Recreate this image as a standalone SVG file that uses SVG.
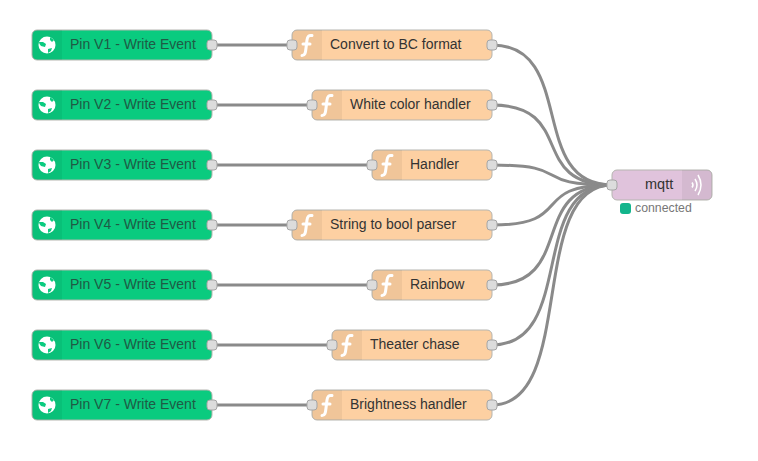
<svg xmlns="http://www.w3.org/2000/svg" width="758" height="461" viewBox="0 0 758 461">
<style>
text{font-family:"Liberation Sans",Arial,sans-serif;font-size:14px;fill:#333}
.body{stroke:#b5b5b0;stroke-width:1}
.inject{fill:#0acb7f}
.func{fill:#fdd0a2}
.mq{fill:#e0c3dc}
.shade{fill:#000;fill-opacity:.05}
.port{fill:#dcdcdc;stroke:#a5a5a5;stroke-width:1}
.wire{fill:none;stroke:#8a8a8a;stroke-width:3}
.lbl{fill:#1f5a45}
.ico{fill:none;stroke:#fff;stroke-width:3;stroke-linecap:round}
.st{font-size:12.3px;fill:#777}
</style>
<defs>
<g id="globe"><circle cx="15" cy="0" r="8.500" fill="#fff"/><path d="M7 -3 L11 -3 L14 -1 L13 2 L9 1 L7.500 -1Z M16 4 L20 3 L19 6 L16 8Z M18 -8 L22 -5 L20 -3 L18 -5Z" fill="#0acb7f"/></g>
<g id="fn"><path class="ico" d="M10 10.500 C13 10.500 13.500 8 14 3 L15 -5 C15.500 -9 17 -10 20 -9.500 M11 -1 H18"/></g>
</defs>
<rect width="758" height="461" fill="#fff"/>
<g id="connectors">
<path class="wire" d="M212 45H292"/>
<path class="wire" d="M212 105H312"/>
<path class="wire" d="M212 165H372"/>
<path class="wire" d="M212 225H292"/>
<path class="wire" d="M212 285H372"/>
<path class="wire" d="M212 345H332"/>
<path class="wire" d="M212 405H312"/>
<path class="wire" d="M492 45C577 45 527 185 612 185"/>
<path class="wire" d="M492 105C577 105 527 185 612 185"/>
<path class="wire" d="M492 165C577 165 527 185 612 185"/>
<path class="wire" d="M492 225C577 225 527 185 612 185"/>
<path class="wire" d="M492 285C577 285 527 185 612 185"/>
<path class="wire" d="M492 345C577 345 527 185 612 185"/>
<path class="wire" d="M492 405C577 405 527 185 612 185"/>
</g>
<g id="in1" transform="translate(32,45)"><rect class="body inject" y="-15" width="180" height="30" rx="5"/><path class="shade" d="M5 -15H30V15H5A5 5 0 0 1 0 10V-10A5 5 0 0 1 5 -15Z"/><use href="#globe"/><text class="lbl" x="38" y="4">Pin V1 - Write Event</text><rect class="port" x="175" y="-5" width="10" height="10" rx="3"/></g>
<g id="in2" transform="translate(32,105)"><rect class="body inject" y="-15" width="180" height="30" rx="5"/><path class="shade" d="M5 -15H30V15H5A5 5 0 0 1 0 10V-10A5 5 0 0 1 5 -15Z"/><use href="#globe"/><text class="lbl" x="38" y="4">Pin V2 - Write Event</text><rect class="port" x="175" y="-5" width="10" height="10" rx="3"/></g>
<g id="in3" transform="translate(32,165)"><rect class="body inject" y="-15" width="180" height="30" rx="5"/><path class="shade" d="M5 -15H30V15H5A5 5 0 0 1 0 10V-10A5 5 0 0 1 5 -15Z"/><use href="#globe"/><text class="lbl" x="38" y="4">Pin V3 - Write Event</text><rect class="port" x="175" y="-5" width="10" height="10" rx="3"/></g>
<g id="in4" transform="translate(32,225)"><rect class="body inject" y="-15" width="180" height="30" rx="5"/><path class="shade" d="M5 -15H30V15H5A5 5 0 0 1 0 10V-10A5 5 0 0 1 5 -15Z"/><use href="#globe"/><text class="lbl" x="38" y="4">Pin V4 - Write Event</text><rect class="port" x="175" y="-5" width="10" height="10" rx="3"/></g>
<g id="in5" transform="translate(32,285)"><rect class="body inject" y="-15" width="180" height="30" rx="5"/><path class="shade" d="M5 -15H30V15H5A5 5 0 0 1 0 10V-10A5 5 0 0 1 5 -15Z"/><use href="#globe"/><text class="lbl" x="38" y="4">Pin V5 - Write Event</text><rect class="port" x="175" y="-5" width="10" height="10" rx="3"/></g>
<g id="in6" transform="translate(32,345)"><rect class="body inject" y="-15" width="180" height="30" rx="5"/><path class="shade" d="M5 -15H30V15H5A5 5 0 0 1 0 10V-10A5 5 0 0 1 5 -15Z"/><use href="#globe"/><text class="lbl" x="38" y="4">Pin V6 - Write Event</text><rect class="port" x="175" y="-5" width="10" height="10" rx="3"/></g>
<g id="in7" transform="translate(32,405)"><rect class="body inject" y="-15" width="180" height="30" rx="5"/><path class="shade" d="M5 -15H30V15H5A5 5 0 0 1 0 10V-10A5 5 0 0 1 5 -15Z"/><use href="#globe"/><text class="lbl" x="38" y="4">Pin V7 - Write Event</text><rect class="port" x="175" y="-5" width="10" height="10" rx="3"/></g>
<g id="fn1" transform="translate(292,45)"><rect class="body func" y="-15" width="200" height="30" rx="5"/><path class="shade" d="M5 -15H30V15H5A5 5 0 0 1 0 10V-10A5 5 0 0 1 5 -15Z"/><use href="#fn"/><text x="38" y="4">Convert to BC format</text><rect class="port" x="-5" y="-5" width="10" height="10" rx="3"/><rect class="port" x="195" y="-5" width="10" height="10" rx="3"/></g>
<g id="fn2" transform="translate(312,105)"><rect class="body func" y="-15" width="180" height="30" rx="5"/><path class="shade" d="M5 -15H30V15H5A5 5 0 0 1 0 10V-10A5 5 0 0 1 5 -15Z"/><use href="#fn"/><text x="38" y="4">White color handler</text><rect class="port" x="-5" y="-5" width="10" height="10" rx="3"/><rect class="port" x="175" y="-5" width="10" height="10" rx="3"/></g>
<g id="fn3" transform="translate(372,165)"><rect class="body func" y="-15" width="120" height="30" rx="5"/><path class="shade" d="M5 -15H30V15H5A5 5 0 0 1 0 10V-10A5 5 0 0 1 5 -15Z"/><use href="#fn"/><text x="38" y="4">Handler</text><rect class="port" x="-5" y="-5" width="10" height="10" rx="3"/><rect class="port" x="115" y="-5" width="10" height="10" rx="3"/></g>
<g id="fn4" transform="translate(292,225)"><rect class="body func" y="-15" width="200" height="30" rx="5"/><path class="shade" d="M5 -15H30V15H5A5 5 0 0 1 0 10V-10A5 5 0 0 1 5 -15Z"/><use href="#fn"/><text x="38" y="4">String to bool parser</text><rect class="port" x="-5" y="-5" width="10" height="10" rx="3"/><rect class="port" x="195" y="-5" width="10" height="10" rx="3"/></g>
<g id="fn5" transform="translate(372,285)"><rect class="body func" y="-15" width="120" height="30" rx="5"/><path class="shade" d="M5 -15H30V15H5A5 5 0 0 1 0 10V-10A5 5 0 0 1 5 -15Z"/><use href="#fn"/><text x="38" y="4">Rainbow</text><rect class="port" x="-5" y="-5" width="10" height="10" rx="3"/><rect class="port" x="115" y="-5" width="10" height="10" rx="3"/></g>
<g id="fn6" transform="translate(332,345)"><rect class="body func" y="-15" width="160" height="30" rx="5"/><path class="shade" d="M5 -15H30V15H5A5 5 0 0 1 0 10V-10A5 5 0 0 1 5 -15Z"/><use href="#fn"/><text x="38" y="4">Theater chase</text><rect class="port" x="-5" y="-5" width="10" height="10" rx="3"/><rect class="port" x="155" y="-5" width="10" height="10" rx="3"/></g>
<g id="fn7" transform="translate(312,405)"><rect class="body func" y="-15" width="180" height="30" rx="5"/><path class="shade" d="M5 -15H30V15H5A5 5 0 0 1 0 10V-10A5 5 0 0 1 5 -15Z"/><use href="#fn"/><text x="38" y="4">Brightness handler</text><rect class="port" x="-5" y="-5" width="10" height="10" rx="3"/><rect class="port" x="175" y="-5" width="10" height="10" rx="3"/></g>
<g id="mqtt" transform="translate(612,185)"><rect class="body mq" y="-15" width="100" height="30" rx="5"/><path class="shade" d="M70 -15H95A5 5 0 0 1 100 -10V10A5 5 0 0 1 95 15H70Z"/><path d="M80 -2.500Q82 0 80 2.500M83 -6Q87 0 83 6M86 -10Q92 0 86 10" fill="none" stroke="#fff" stroke-width="1.500"/><text x="33" y="4" style="font-size:14.500px">mqtt</text><rect class="port" x="-5" y="-5" width="10" height="10" rx="3"/><rect x="8" y="18" width="11" height="11" rx="3" fill="#13b58c"/><text class="st" x="23" y="27">connected</text></g>
</svg>
